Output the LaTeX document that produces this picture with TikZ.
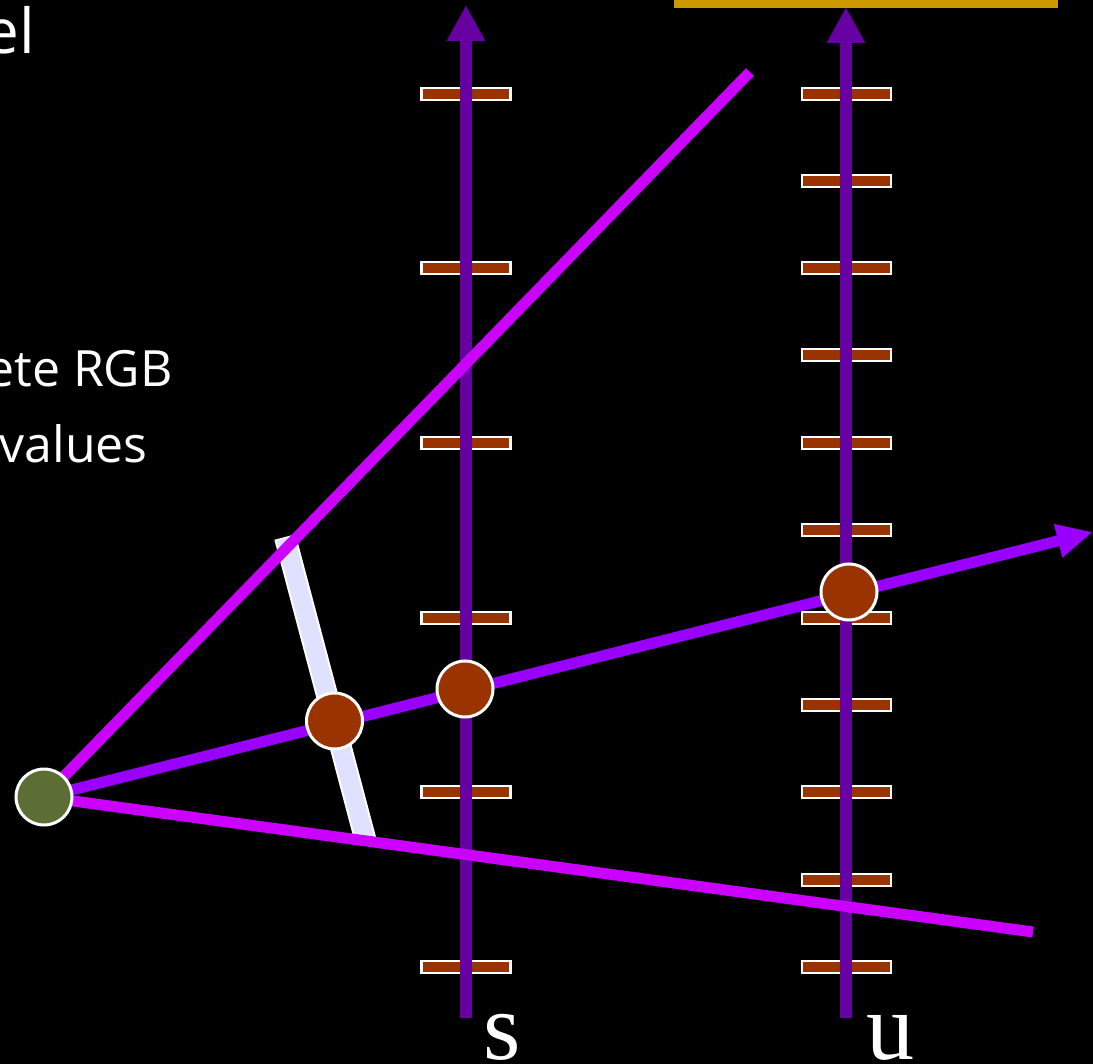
\documentclass[tikz,border=0pt]{standalone}
\usepackage{fontspec}
\setmainfont{Liberation Serif}
\newfontfamily\bodyfont{Open Sans}
\usetikzlibrary{arrows.meta,calc}

\definecolor{axisviolet}{HTML}{6600A3}
\definecolor{rayviolet}{HTML}{9900FF}
\definecolor{raymagenta}{HTML}{CC00FF}
\definecolor{rust}{HTML}{993300}
\definecolor{olivegreen}{HTML}{5C6E33}
\definecolor{goldbar}{HTML}{CC9900}
\definecolor{lavenderbar}{HTML}{E0E0FF}

\tikzset{
  tickbox/.style={rectangle, draw=white, fill=rust, line width=2.5pt,
    minimum width=89pt, minimum height=12pt, inner sep=0pt},
  axisline/.style={draw=axisviolet, line width=12pt,
    -{Triangle[length=36pt,width=36pt]}},
  edgeray/.style={draw=raymagenta, line width=11pt},
  centerray/.style={draw=rayviolet, line width=11pt,
    -{Triangle[length=36pt,width=32pt]}},
  sample/.style={circle, draw=white, fill=rust, line width=3pt,
    minimum size=56pt, inner sep=0pt},
  eyept/.style={circle, draw=white, fill=olivegreen, line width=3pt,
    minimum size=56pt, inner sep=0pt},
  bodytext/.style={text=white, inner sep=0pt, font=\bodyfont\fontsize{50}{60}\selectfont},
  titletext/.style={text=white, inner sep=0pt, font=\bodyfont\fontsize{62}{70}\selectfont},
  axislabel/.style={text=white, inner sep=0pt, font=\fontsize{96}{96}\selectfont},
}

\begin{document}
\begin{tikzpicture}[x=1pt,y=-1pt]
  % page and background
  \useasboundingbox (0,0) rectangle (1093,1064);
  \fill[black] (0,0) rectangle (1093,1064);

  % gold bar along the top edge
  \fill[goldbar] (674,0) rectangle (1058,8);

  % left-hand text
  \node[titletext, anchor=base east] (title) at (35,54) {el};
  \node[bodytext, anchor=base east] (line1) at (173,387) {ete RGB};
  \node[bodytext, anchor=base east] (line2) at (148,463) {values};

  % tick marks on the two axes
  \foreach \y [count=\i] in {94,268,443,618,792,967}
    \node[tickbox] (st\i) at (466,\y) {};
  \foreach \y [count=\i] in {94,181,268,355,443,530,618,705,792,880,967}
    \node[tickbox] (ut\i) at (846.5,\y) {};

  % axes
  \coordinate (sbot) at (466,1018);
  \coordinate (stop) at (466,5);
  \coordinate (ubot) at (846,1018);
  \coordinate (utop) at (846,7);
  \draw[axisline] (sbot) -- (stop);
  \draw[axisline] (ubot) -- (utop);

  % eye point and ray end points
  \coordinate (eye) at (44,797);
  \coordinate (upend) at (750,72);
  \coordinate (lowend) at (1033,932);
  \coordinate (midend) at (1093,532);

  % pixel footprint bar
  \coordinate (bartop) at (285,537);
  \coordinate (barbot) at (366,842);
  \draw[white, line width=22pt] (bartop) -- (barbot);
  \draw[lavenderbar, line width=18pt] ($(bartop)!1.5pt!(barbot)$) -- ($(barbot)!1.5pt!(bartop)$);

  % rays
  \draw[edgeray] (eye) -- (upend);
  \draw[edgeray] (eye) -- (lowend);
  \draw[centerray] (eye) -- (midend);

  % sample points
  \node[sample] (p1) at (334.5,721) {};
  \node[sample] (p2) at (465,689) {};
  \node[sample] (p3) at (849,592) {};
  \node[eyept] (e) at (eye) {};

  % axis labels
  \node[axislabel, anchor=base] (slab) at (502,1059) {s};
  \node[axislabel, anchor=base] (ulab) at (890,1059) {u};
\end{tikzpicture}
\end{document}
